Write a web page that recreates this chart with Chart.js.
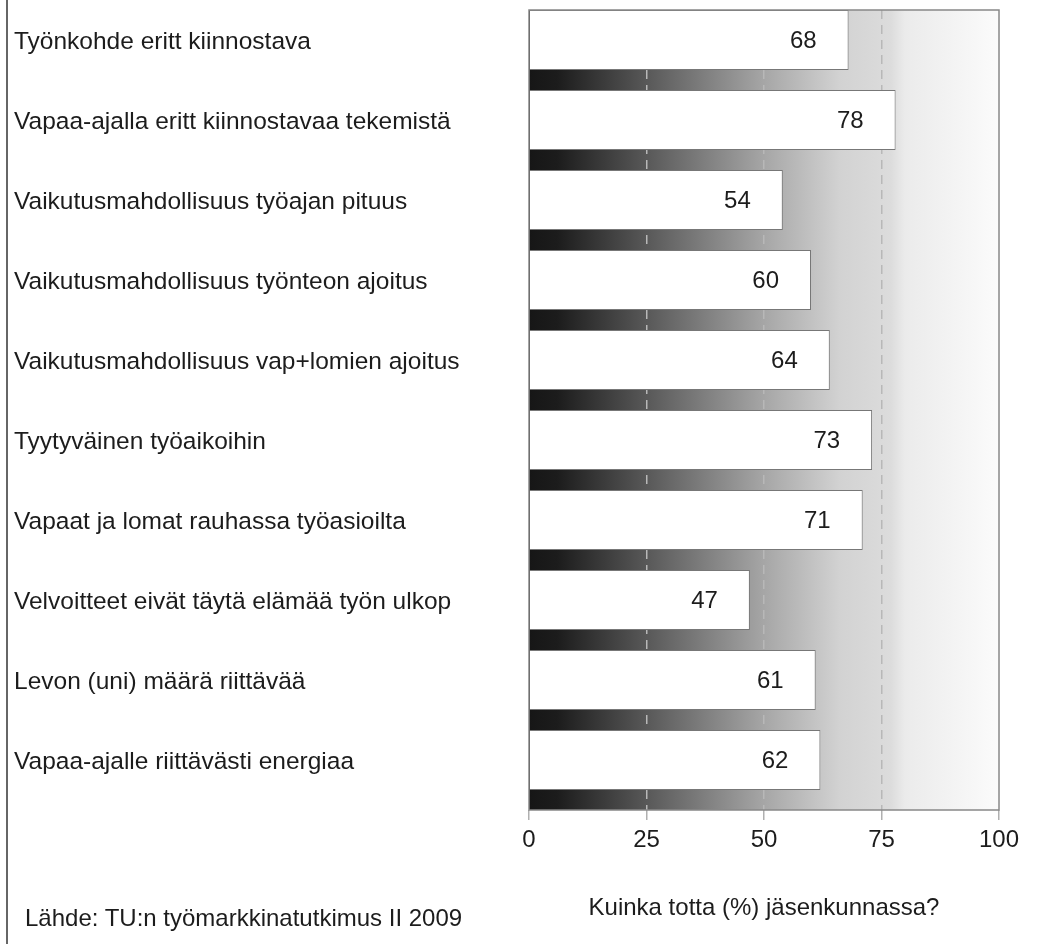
<!DOCTYPE html>
<html>
<head>
<meta charset="utf-8">
<script src="https://cdn.jsdelivr.net/npm/chart.js@4/dist/chart.umd.min.js"></script>
<style>
  html, body { margin: 0; padding: 0; background: #fff; }
  #wrap { position: relative; width: 1041px; height: 944px; }
  #reuna { position: absolute; left: 6px; top: 0; width: 2px; height: 944px; background: #666; }
  #lahde { position: absolute; left: 25px; top: 904px; font: 24px "Liberation Sans", Arial, sans-serif; color: #1c1c1c; white-space: nowrap; }
</style>
</head>
<body>
<div id="wrap">
  <canvas id="kaavio" width="1041" height="944"></canvas>
  <div id="reuna"></div>
  <div id="lahde">Lähde: TU:n työmarkkinatutkimus II 2009</div>
</div>
<script>
const kategoriat = [
  "Työnkohde eritt kiinnostava",
  "Vapaa-ajalla eritt kiinnostavaa tekemistä",
  "Vaikutusmahdollisuus työajan pituus",
  "Vaikutusmahdollisuus työnteon ajoitus",
  "Vaikutusmahdollisuus vap+lomien ajoitus",
  "Tyytyväinen työaikoihin",
  "Vapaat ja lomat rauhassa työasioilta",
  "Velvoitteet eivät täytä elämää työn ulkop",
  "Levon (uni) määrä riittävää",
  "Vapaa-ajalle riittävästi energiaa"
];
const arvot = [68, 78, 54, 60, 64, 73, 71, 47, 61, 62];
const xTikit = [0, 25, 50, 75, 100];
const akselinOtsikko = "Kuinka totta (%) jäsenkunnassa?";

const fontti = '"Liberation Sans", Arial, sans-serif';

// taustan liukuväri + kehys + arvot palkkien sisään
const taustaPlugin = {
  id: 'tausta',
  beforeDraw(chart) {
    const { ctx, chartArea: a } = chart;
    const g = ctx.createLinearGradient(a.left, 0, a.right, 0);
    g.addColorStop(0, '#161616');
    g.addColorStop(0.06, '#1c1c1c');
    g.addColorStop(0.25, '#585858');
    g.addColorStop(0.5, '#a6a6a6');
    g.addColorStop(0.66, '#d2d2d2');
    g.addColorStop(0.77, '#dcdcdc');
    g.addColorStop(0.8, '#ebebeb');
    g.addColorStop(1, '#fbfbfb');
    ctx.save();
    ctx.fillStyle = g;
    ctx.fillRect(a.left, a.top, a.right - a.left, a.bottom - a.top);
    ctx.restore();
  },
  afterDraw(chart) {
    const { ctx, chartArea: a } = chart;
    ctx.save();
    ctx.strokeStyle = '#888';
    ctx.lineWidth = 1.5;
    ctx.strokeRect(a.left, a.top, a.right - a.left, a.bottom - a.top);

    const meta = chart.getDatasetMeta(0);
    ctx.font = '24px ' + fontti;
    ctx.fillStyle = '#1c1c1c';
    ctx.textAlign = 'right';
    ctx.textBaseline = 'middle';
    meta.data.forEach((bar, i) => {
      ctx.fillText(String(arvot[i]), bar.x - 32, bar.y + 1);
    });
    ctx.restore();
  }
};

const ctx = document.getElementById('kaavio').getContext('2d');
new Chart(ctx, {
  type: 'bar',
  data: {
    datasets: [{
      data: arvot.map((v, i) => ({ x: v, y: i })),
      backgroundColor: '#ffffff',
      borderColor: '#777',
      borderWidth: 1,
      categoryPercentage: 1,
      barPercentage: 0.75
    }]
  },
  options: {
    responsive: false,
    animation: false,
    indexAxis: 'y',
    layout: { padding: { left: 14, right: 42, top: 10, bottom: 0 } },
    plugins: {
      legend: { display: false },
      tooltip: { enabled: false }
    },
    scales: {
      x: {
        type: 'linear',
        min: 0,
        max: 100,
        z: 1,
        afterBuildTicks(scale) { scale.ticks = xTikit.map(v => ({ value: v })); },
        afterFit(scale) { scale.height = 134; },
        border: { display: false, dash: [9, 6] },
        grid: {
          color: c => (c.tick && c.tick.value > 0 && c.tick.value < 100) ? '#b8b8b8' : 'rgba(0,0,0,0)',
          lineWidth: 1.5,
          tickColor: '#b0b0b0',
          tickBorderDash: [],
          tickLength: 10,
          tickWidth: 1.5
        },
        ticks: {
          color: '#1c1c1c',
          padding: 6,
          maxRotation: 0,
          font: { family: fontti, size: 24 }
        },
        title: {
          display: true,
          text: akselinOtsikko,
          color: '#1c1c1c',
          font: { family: fontti, size: 24 },
          padding: { top: 0, bottom: 21 }
        }
      },
      y: {
        type: 'linear',
        reverse: true,
        offset: false,
        min: -0.375,
        max: kategoriat.length - 0.375,
        afterBuildTicks(scale) { scale.ticks = kategoriat.map((k, i) => ({ value: i })); },
        afterFit(scale) {
          scale.width = 515;
          scale.paddingTop = 0;
          scale.paddingBottom = 0;
        },
        border: { display: false },
        grid: { display: false },
        ticks: {
          crossAlign: 'far',
          labelOffset: 2,
          color: '#1c1c1c',
          font: { family: fontti, size: 24.5 },
          callback: v => kategoriat[v]
        }
      }
    }
  },
  plugins: [taustaPlugin]
});
</script>
</body>
</html>
